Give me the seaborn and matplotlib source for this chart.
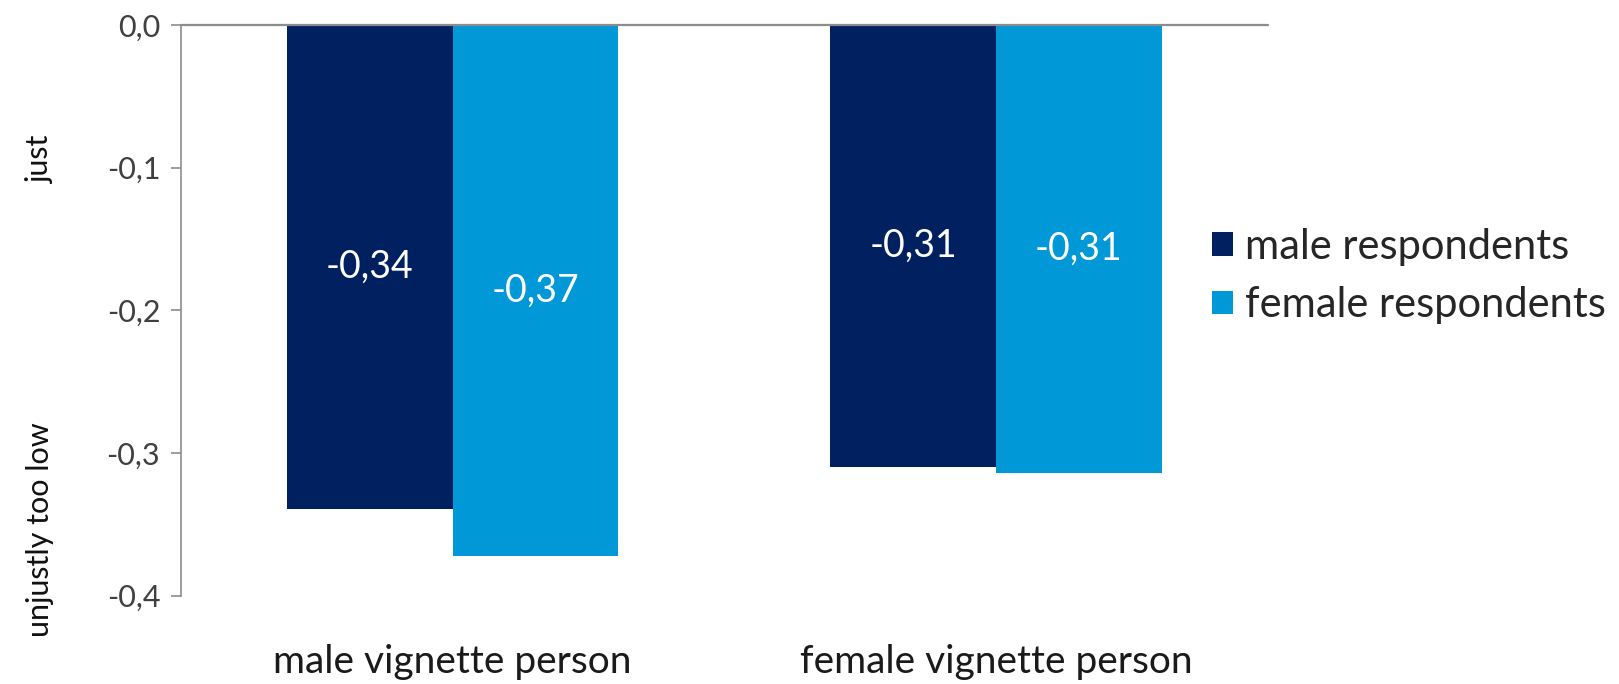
import matplotlib
matplotlib.use("Agg")
import matplotlib.pyplot as plt
import matplotlib.ticker as mticker
from matplotlib.patches import Patch
import seaborn as sns
import pandas as pd

# Data
vignettes = ["male vignette person", "female vignette person"]
respondents = ["male respondents", "female respondents"]
male_resp_values = [-0.339, -0.310]
female_resp_values = [-0.372, -0.314]
y_ticks = [0.0, -0.1, -0.2, -0.3, -0.4]
colors = ["#002060", "#0098D7"]

df = pd.DataFrame({
    "vignette": vignettes * 2,
    "respondent": [respondents[0]] * 2 + [respondents[1]] * 2,
    "value": male_resp_values + female_resp_values,
})

sns.set_theme(style="white")
plt.rcParams["font.family"] = ["Lato", "DejaVu Sans"]

fig = plt.figure(figsize=(16.19, 6.84), dpi=100)
ax = fig.add_axes([0.1118, 0.129, 0.783 - 0.1118, 0.9637 - 0.129])

sns.barplot(data=df, x="vignette", y="value", hue="respondent",
            order=vignettes, hue_order=respondents, palette=colors,
            width=0.61, saturation=1, ax=ax, legend=False,
            edgecolor="none", linewidth=0)

for cont in ax.containers:
    labels = [f"{b.get_height():.2f}".replace(".", ",") for b in cont]
    ax.bar_label(cont, labels=labels, label_type="center", color="white",
                 fontsize=27)

ax.set_ylim(-0.4, 0.0)
ax.set_xlim(-0.5, 1.5)
ax.set_yticks(y_ticks)
ax.yaxis.set_major_formatter(mticker.FuncFormatter(lambda v, p: f"{v:.1f}".replace(".", ",")))
ax.tick_params(axis="y", labelsize=22, labelcolor="#404040", left=True,
               length=7, width=1.2, color="#8c8c8c", pad=8)
ax.tick_params(axis="x", length=0, labelsize=28, labelcolor="#1a1a1a", pad=35)
ax.set_xlabel("")
ax.set_ylabel("")

for s in ["right", "bottom", "top"]:
    ax.spines[s].set_visible(False)
ax.spines["left"].set_color("#8c8c8c")
ax.spines["left"].set_linewidth(1.2)
ax.axhline(0, color="#8c8c8c", lw=1.6, zorder=5, clip_on=False)

# Axis captions
fig.text(0.025, 1 - 160 / 684, "just", rotation=90, ha="center", va="center",
         fontsize=22, color="#111111")
fig.text(0.025, 1 - 530 / 684, "unjustly too low", rotation=90, ha="center",
         va="center", fontsize=22, color="#111111")

handles = [Patch(facecolor=c, edgecolor="none") for c in colors]
fig.legend(handles, respondents, loc="center left",
           bbox_to_anchor=(1212 / 1619, 1 - 276 / 684), frameon=False,
           fontsize=30, handlelength=0.5, handleheight=0.5,
           handletextpad=0.3, labelspacing=0.5, borderaxespad=0,
           borderpad=0)

fig.savefig("out.png", dpi=100)
